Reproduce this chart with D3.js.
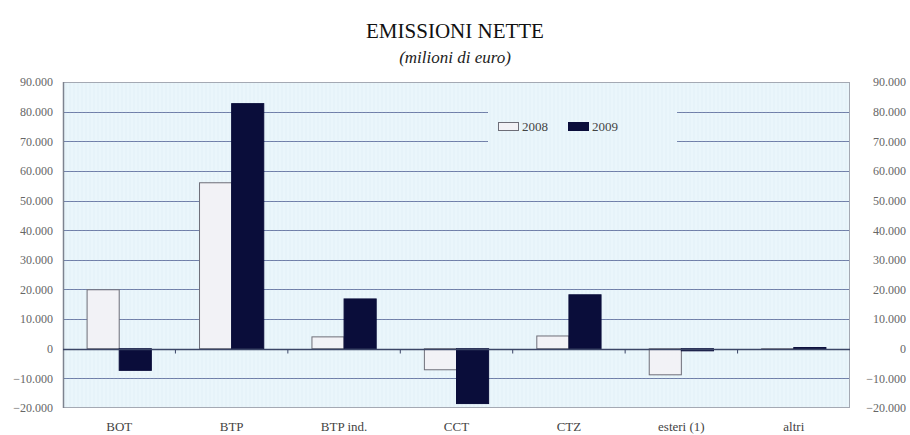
<!DOCTYPE html>
<html>
<head>
<meta charset="utf-8">
<script src="https://cdn.jsdelivr.net/npm/d3@7"></script>
<style>
  body { margin: 0; background: #ffffff; }
  svg { display: block; }
  text { font-family: "Liberation Serif", "DejaVu Serif", serif; }
</style>
</head>
<body>
<svg id="chart" width="910" height="435"></svg>
<script>
const categories = ["BOT", "BTP", "BTP ind.", "CCT", "CTZ", "esteri (1)", "altri"];
const seriesNames = ["2008", "2009"];
const values2008 = [19900, 56000, 4000, -7100, 4300, -8800, -200];
const values2009 = [-7300, 82700, 16800, -18500, 18200, -700, 400];
const yTicks = [-20000, -10000, 0, 10000, 20000, 30000, 40000, 50000, 60000, 70000, 80000, 90000];
const colors = ["#f2f2f6", "#0a0d3a"];

const svg = d3.select("#chart");
const plot = { left: 63, right: 850, top: 82, bottom: 408 };

const x = d3.scaleBand().domain(categories).range([plot.left, plot.right]).padding(0);
const x1 = d3.scaleBand().domain(seriesNames).range([0, x.bandwidth()]).paddingInner(0).paddingOuter(0.75);
const y = d3.scaleLinear().domain([-20000, 90000]).range([plot.bottom, plot.top]);

const fmt = v => d3.format(",")(v).replace(/,/g, ".");

// Title
svg.append("text").attr("x", 455).attr("y", 38).attr("text-anchor", "middle")
  .attr("font-size", 21).attr("fill", "#111").text("EMISSIONI NETTE");
svg.append("text").attr("x", 455).attr("y", 63).attr("text-anchor", "middle")
  .attr("font-size", 17).attr("font-style", "italic").attr("fill", "#222").text("(milioni di euro)");

// Plot background
svg.append("rect").attr("x", plot.left).attr("y", plot.top)
  .attr("width", plot.right - plot.left).attr("height", plot.bottom - plot.top)
  .attr("fill", "#eaf6fb");

// Gridlines
svg.append("g").selectAll("line").data(yTicks.filter(t => t !== 0 && t !== 90000 && t !== -20000)).join("line")
  .attr("x1", plot.left).attr("x2", plot.right)
  .attr("y1", d => Math.round(y(d)) + 0.5).attr("y2", d => Math.round(y(d)) + 0.5)
  .attr("stroke", "#6f7ea8").attr("stroke-width", 1.2);

// Legend background (covers gridlines)
svg.append("rect").attr("x", 488).attr("y", 104).attr("width", 189).attr("height", 42)
  .attr("fill", "#eaf6fb");

// faint vertical stripes of the scan
const stripes = svg.append("g").attr("opacity", 0.18);
stripes.selectAll("line").data(d3.range(plot.left + 3, plot.right, 4)).join("line")
  .attr("x1", d => d).attr("x2", d => d).attr("y1", plot.top).attr("y2", plot.bottom)
  .attr("stroke", "#c6dbe8").attr("stroke-width", 1);

// Plot border
svg.append("rect").attr("x", plot.left + 0.5).attr("y", plot.top + 0.5)
  .attr("width", plot.right - plot.left - 1).attr("height", plot.bottom - plot.top - 1)
  .attr("fill", "none").attr("stroke", "#a4a9b3").attr("stroke-width", 1);
svg.append("line").attr("x1", plot.left + 0.5).attr("x2", plot.left + 0.5)
  .attr("y1", plot.top).attr("y2", plot.bottom).attr("stroke", "#7d838f").attr("stroke-width", 1.5);

// Bars
const data = categories.map((c, i) => ({ cat: c, vals: [values2008[i], values2009[i]] }));
const groups = svg.append("g").selectAll("g").data(data).join("g")
  .attr("transform", d => `translate(${x(d.cat)},0)`);
groups.selectAll("rect").data(d => d.vals.map((v, j) => ({ key: seriesNames[j], v, j }))).join("rect")
  .attr("x", d => x1(d.key))
  .attr("width", x1.bandwidth())
  .attr("y", d => y(Math.max(0, d.v)))
  .attr("height", d => Math.abs(y(d.v) - y(0)))
  .attr("fill", d => colors[d.j])
  .attr("stroke", d => d.j === 0 ? "#6e6e78" : "#0a0d3a")
  .attr("stroke-width", 1);

// Zero line with ticks
const zeroY = Math.round(y(0)) + 0.5;
svg.append("line").attr("x1", plot.left).attr("x2", plot.right)
  .attr("y1", zeroY).attr("y2", zeroY).attr("stroke", "#3b4566").attr("stroke-width", 1.3);
svg.append("g").selectAll("line").data(categories.slice(1)).join("line")
  .attr("x1", d => x(d)).attr("x2", d => x(d))
  .attr("y1", zeroY).attr("y2", zeroY + 4)
  .attr("stroke", "#3b4566").attr("stroke-width", 1);

// Left axis labels
const yAxisL = d3.axisLeft(y).tickValues(yTicks).tickFormat(fmt).tickSize(0).tickPadding(10);
const gl = svg.append("g").attr("transform", `translate(${plot.left},0)`).call(yAxisL);
gl.select(".domain").remove();
gl.selectAll("text").attr("font-size", 12).attr("fill", "#666");

// Right axis labels (right-aligned at x ~906)
const yAxisR = d3.axisRight(y).tickValues(yTicks).tickFormat(fmt).tickSize(0).tickPadding(0);
const gr = svg.append("g").attr("transform", `translate(906,0)`).call(yAxisR);
gr.select(".domain").remove();
gr.selectAll("text").attr("text-anchor", "end").attr("font-size", 12).attr("fill", "#666");

// X category labels
const xAxis = d3.axisBottom(x).tickSize(0).tickPadding(0);
const gx = svg.append("g").attr("transform", `translate(0,${plot.bottom + 14})`).call(xAxis);
gx.select(".domain").remove();
gx.selectAll("text").attr("font-size", 13).attr("fill", "#444");

// Legend
const legend = svg.append("g");
const legX = [498, 568];
seriesNames.forEach((s, i) => {
  legend.append("rect").attr("x", legX[i] + 0.5).attr("y", 122.5).attr("width", 20).attr("height", 8)
    .attr("fill", colors[i]).attr("stroke", i === 0 ? "#6e6e78" : "#0a0d3a");
  legend.append("text").attr("x", legX[i] + 24).attr("y", 131).attr("font-size", 13)
    .attr("fill", "#444").text(s);
});
</script>
</body>
</html>
